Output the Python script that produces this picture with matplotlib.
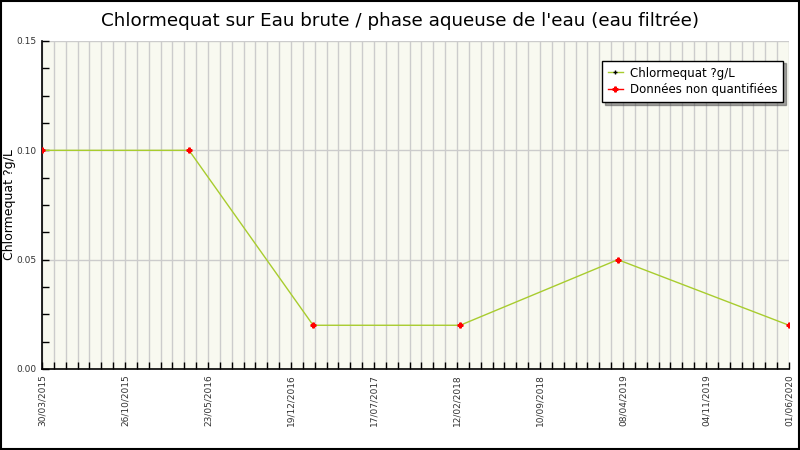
import datetime as dt

import matplotlib
matplotlib.use("Agg")
import matplotlib.pyplot as plt
import matplotlib.dates as mdates
from matplotlib.lines import Line2D
from matplotlib.ticker import MultipleLocator, FixedLocator, FormatStrFormatter

# data
dates = ["2015-03-30", "2016-04-05", "2017-02-13", "2018-02-20", "2019-03-26", "2020-06-01"]
values = [0.10, 0.10, 0.02, 0.02, 0.05, 0.02]
title = "Chlormequat sur Eau brute / phase aqueuse de l'eau (eau filtrée)"
ylabel = "Chlormequat ?g/L"
legend_labels = ["Chlormequat ?g/L", "Données non quantifiées"]

x = [dt.datetime.strptime(d, "%Y-%m-%d") for d in dates]
start, end = x[0], x[-1]

fig = plt.figure(figsize=(8, 4.5), dpi=100)
ax = fig.add_axes([0.0525, 0.18, 0.93375, 0.7289])
ax.set_facecolor("#f8f9f0")

ax.plot(x, values, color="#a8cc2e", lw=1, zorder=3)
ax.plot(x, values, ls="none", marker="P", ms=3.5, color="#ff0000", mec="#ff0000", zorder=4)

# ticks: labels every 210 days, grid every 30 days
major = [start + dt.timedelta(days=210 * i) for i in range(10)]
minor = [start + dt.timedelta(days=30 * i) for i in range(64)]
ax.xaxis.set_major_locator(FixedLocator(mdates.date2num(major)))
ax.xaxis.set_minor_locator(FixedLocator(mdates.date2num(minor)))
ax.xaxis.set_major_formatter(mdates.DateFormatter("%d/%m/%Y"))
ax.set_xlim(start, end)
ax.set_ylim(0, 0.15)
ax.yaxis.set_major_locator(MultipleLocator(0.05))
ax.yaxis.set_minor_locator(MultipleLocator(0.0125))
ax.yaxis.set_major_formatter(FormatStrFormatter("%.2f"))

ax.grid(True, which="both", axis="x", color="#cccccc", lw=1)
ax.grid(True, which="major", axis="y", color="#cccccc", lw=1)
ax.set_axisbelow(True)

ax.tick_params(axis="both", which="both", direction="in", length=5, width=1, colors="black",
               labelcolor="#333333", labelsize=6.5)
ax.tick_params(axis="x", which="major", labelrotation=90, pad=4)
ax.tick_params(axis="y", which="major", pad=4)
for sp in ["top", "right"]:
    ax.spines[sp].set_visible(False)
for sp in ["left", "bottom"]:
    ax.spines[sp].set_linewidth(1.2)

ax.set_ylabel(ylabel, fontsize=9, va="center")
ax.yaxis.set_label_coords(-0.043, 0.5)
fig.text(0.5, 0.955, title, ha="center", va="center", fontsize=13.2)

handles = [
    Line2D([], [], color="#a8cc2e", lw=1, marker="+", ms=3, mec="black"),
    Line2D([], [], color="#ff0000", lw=1, marker="P", ms=3.5, mec="#ff0000"),
]
leg = ax.legend(handles, legend_labels, loc="upper right", bbox_to_anchor=(0.992, 0.94),
                borderaxespad=0, fontsize=8.5, frameon=True, fancybox=False, shadow=True,
                handlelength=1.2, borderpad=0.5, labelspacing=0.3, handletextpad=0.6)
leg.get_frame().set_edgecolor("black")
leg.get_frame().set_linewidth(1)

# black border around the whole picture
fig.patches.append(plt.Rectangle((0.001, 0.002), 0.998, 0.996, transform=fig.transFigure,
                                 fill=False, edgecolor="black", lw=1.5))

fig.savefig("out.png", dpi=100)
